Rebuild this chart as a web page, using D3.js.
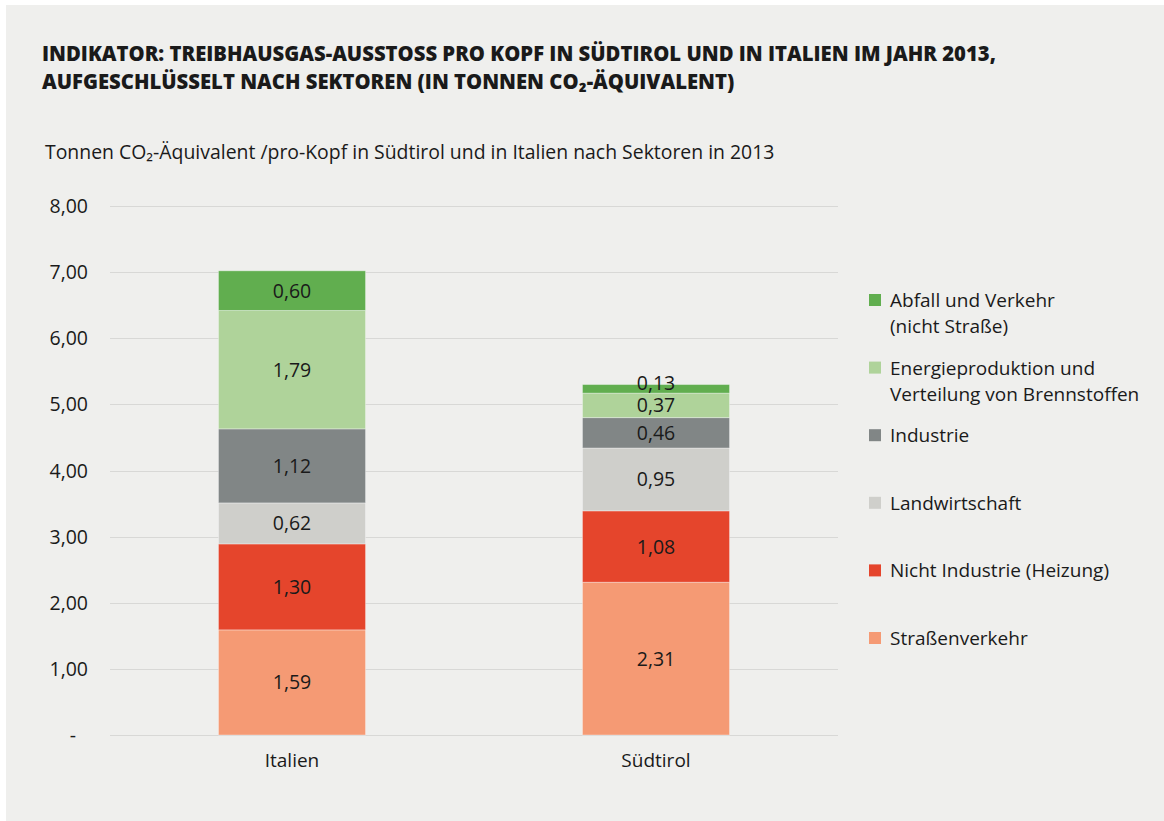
<!DOCTYPE html>
<html>
<head>
<meta charset="utf-8">
<script src="https://cdn.jsdelivr.net/npm/d3@7"></script>
<style>
  html, body { margin: 0; padding: 0; background: #ffffff; }
  svg { display: block; }
  text { font-family: "Open Sans", "Noto Sans", sans-serif; fill: #1a1a1a; }
</style>
</head>
<body>
<svg id="chart" width="1164" height="821"></svg>
<script>
// data
const regions = ["Italien", "Südtirol"];
const sectors = [
  "Straßenverkehr",
  "Nicht Industrie (Heizung)",
  "Landwirtschaft",
  "Industrie",
  "Energieproduktion und Verteilung von Brennstoffen",
  "Abfall und Verkehr (nicht Straße)"
];
const italienValues = [1.59, 1.30, 0.62, 1.12, 1.79, 0.60];
const suedtirolValues = [2.31, 1.08, 0.95, 0.46, 0.37, 0.13];
const sectorColors = ["#f59a74", "#e5452c", "#cfcfcb", "#818686", "#afd39a", "#61ae4f"];
const yTicks = [0, 1, 2, 3, 4, 5, 6, 7, 8];
const legendLines = [
  ["Abfall und Verkehr", "(nicht Straße)"],
  ["Energieproduktion und", "Verteilung von Brennstoffen"],
  ["Industrie"],
  ["Landwirtschaft"],
  ["Nicht Industrie (Heizung)"],
  ["Straßenverkehr"]
];
const legendColors = ["#61ae4f", "#afd39a", "#818686", "#cfcfcb", "#e5452c", "#f59a74"];

const svg = d3.select("#chart");

// grey panel
svg.append("rect")
  .attr("x", 6).attr("y", 5)
  .attr("width", 1158).attr("height", 816)
  .attr("fill", "#efefed");

// fit a text element to a target width
function fitWidth(sel, target) {
  const w = sel.node().getComputedTextLength();
  const fs = parseFloat(sel.attr("font-size"));
  sel.attr("font-size", fs * target / w);
}

// title
const title1 = svg.append("text")
  .attr("x", 42).attr("y", 61)
  .attr("font-size", 20).attr("font-weight", 800)
  .text("INDIKATOR: TREIBHAUSGAS-AUSSTOSS PRO KOPF IN SÜDTIROL UND IN ITALIEN IM JAHR 2013,");
fitWidth(title1, 955);
const title2 = svg.append("text")
  .attr("x", 42).attr("y", 89)
  .attr("font-size", 20).attr("font-weight", 800)
  .text("AUFGESCHLÜSSELT NACH SEKTOREN (IN TONNEN CO₂-ÄQUIVALENT)");
title2.attr("font-size", title1.attr("font-size"));

// subtitle
const sub = svg.append("text")
  .attr("x", 45).attr("y", 159)
  .attr("font-size", 18)
  .text("Tonnen CO₂-Äquivalent /pro-Kopf in Südtirol und in Italien nach Sektoren in 2013");
fitWidth(sub, 730);

// scales
const x = d3.scaleBand()
  .domain(regions)
  .range([110, 838])
  .paddingInner(0.596)
  .paddingOuter(0.298);

const y = d3.scaleLinear()
  .domain([0, 8])
  .range([735, 206]);

// gridlines
svg.append("g")
  .selectAll("line")
  .data(yTicks)
  .join("line")
  .attr("x1", 110).attr("x2", 838)
  .attr("y1", d => Math.round(y(d)) + 0.5)
  .attr("y2", d => Math.round(y(d)) + 0.5)
  .attr("stroke", "#d8d8d6")
  .attr("stroke-width", 1.2);

// y labels
const fmt = d => d === 0 ? "-" : d3.format(".2f")(d).replace(".", ",");
svg.append("g")
  .selectAll("text")
  .data(yTicks)
  .join("text")
  .attr("x", d => d === 0 ? 76 : 88)
  .attr("y", d => y(d) + 7)
  .attr("text-anchor", "end")
  .attr("font-size", 19.5)
  .text(fmt);

// stacked bars
const rows = regions.map((r, i) => {
  const vals = i === 0 ? italienValues : suedtirolValues;
  const o = { region: r };
  sectors.forEach((s, j) => o[s] = vals[j]);
  return o;
});
const series = d3.stack().keys(sectors)(rows);

const layers = svg.append("g")
  .selectAll("g")
  .data(series)
  .join("g")
  .attr("fill", (d, i) => sectorColors[i]);

layers.selectAll("rect")
  .data(d => d)
  .join("rect")
  .attr("x", d => x(d.data.region))
  .attr("width", x.bandwidth())
  .attr("y", d => y(d[1]))
  .attr("height", d => y(d[0]) - y(d[1]))
  .attr("stroke", "rgba(255,255,255,0.35)")
  .attr("stroke-width", 1);

// value labels (very thin segments get their label nudged up a bit)
layers.selectAll("text")
  .data(d => d.map(p => ({ p, key: d.key })))
  .join("text")
  .attr("x", d => x(d.p.data.region) + x.bandwidth() / 2)
  .attr("y", d => {
    const h = y(d.p[0]) - y(d.p[1]);
    return y((d.p[0] + d.p[1]) / 2) + 7 - (h < 15 ? 6 : 0);
  })
  .attr("text-anchor", "middle")
  .attr("font-size", 19.5)
  .style("fill", "#1a1a1a")
  .text(d => d3.format(".2f")(d.p.data[d.key]).replace(".", ","));

// x labels
svg.append("g")
  .selectAll("text")
  .data(regions)
  .join("text")
  .attr("x", d => x(d) + x.bandwidth() / 2)
  .attr("y", 767)
  .attr("text-anchor", "middle")
  .attr("font-size", 19)
  .text(d => d);

// legend
const legend = svg.append("g")
  .selectAll("g")
  .data(legendLines)
  .join("g")
  .attr("transform", (d, i) => `translate(869, ${300 + i * 67.6})`);

legend.append("rect")
  .attr("x", 0).attr("y", -6)
  .attr("width", 12).attr("height", 12)
  .attr("fill", (d, i) => legendColors[i]);

legend.selectAll("text")
  .data(d => d)
  .join("text")
  .attr("x", 21)
  .attr("y", (d, k) => 7 + k * 26)
  .attr("font-size", 19)
  .text(d => d);
</script>
</body>
</html>
